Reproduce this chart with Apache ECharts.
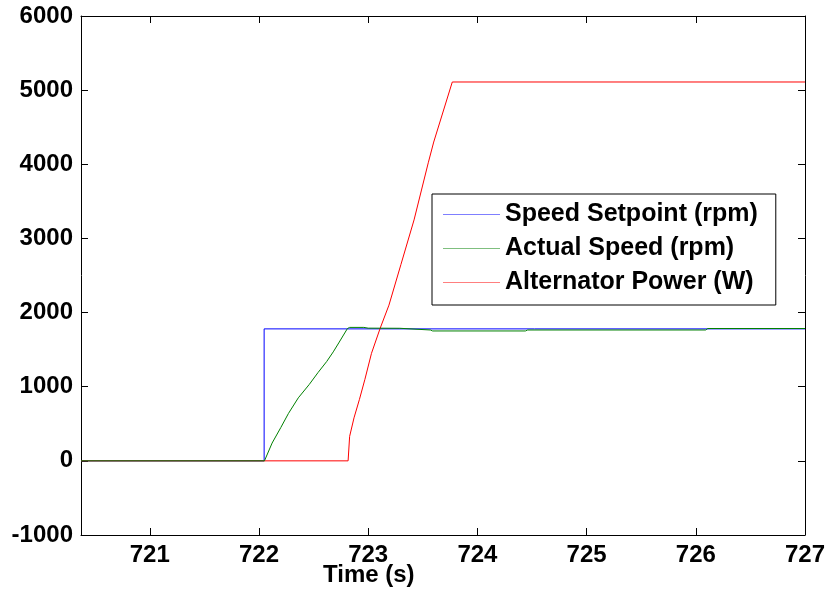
<!DOCTYPE html>
<html>
<head>
<meta charset="utf-8">
<script src="https://cdn.jsdelivr.net/npm/echarts@6/dist/echarts.min.js"></script>
<style>
  html, body { margin: 0; padding: 0; background: #fff; }
  #chart { width: 830px; height: 596px; }
</style>
</head>
<body>
<div id="chart"></div>
<script>
// Axis ticks
const xTicks = [721, 722, 723, 724, 725, 726, 727];
const yTicks = [-1000, 0, 1000, 2000, 3000, 4000, 5000, 6000];

// Speed setpoint (rpm)
const setpointTime = [720.37, 722.047, 722.047, 727];
const setpointValue = [0, 0, 1780, 1780];

// Measured speed (rpm)
const speedTime = [720.37, 722.05, 722.12, 722.2, 722.27, 722.36, 722.46, 722.54, 722.62, 722.68, 722.73, 722.81,
  722.83, 722.96, 723.0, 723.29, 723.3, 723.57, 723.59, 724.44, 724.46, 726.09, 726.11, 727];
const speedValue = [0, 0, 240, 450, 640, 850, 1030, 1190, 1340, 1470, 1590, 1785,
  1800, 1800, 1790, 1788, 1765, 1765, 1752, 1752, 1765, 1765, 1785, 1785];

// Alternator output power (W)
const powerTime = [720.37, 722.816, 722.83, 722.87, 722.92, 722.97, 723.03, 723.11, 723.19, 723.3, 723.42,
  723.55, 723.6, 723.77, 727];
const powerValue = [0, 0, 330, 580, 830, 1100, 1450, 1790, 2100, 2650, 3250,
  4020, 4300, 5110, 5110];

const seriesNames = ['Speed Setpoint (rpm)', 'Actual Speed (rpm)', 'Alternator Power (W)'];
const seriesColors = ['#0000ff', '#008000', '#ff0000'];

const pairs = (t, v) => t.map((x, i) => [x, v[i]]);

const FONT = 'Liberation Sans, Arial, sans-serif';
const X_MIN = 720.37, X_MAX = 727;

const chart = echarts.init(document.getElementById('chart'), null, { renderer: 'canvas' });

const baseX = {
  type: 'value', min: X_MIN, max: X_MAX,
  splitLine: { show: false },
  axisLine: { show: true, onZero: false, lineStyle: { color: '#000', width: 1 } },
  axisTick: { show: true, inside: true, length: 7, customValues: xTicks, lineStyle: { color: '#000' } }
};
const baseY = {
  type: 'value', min: -1000, max: 6000, interval: 1000,
  splitLine: { show: false },
  axisLine: { show: true, onZero: false, lineStyle: { color: '#000', width: 1 } },
  axisTick: { show: true, inside: true, length: 7, lineStyle: { color: '#000' } }
};

chart.setOption({
  animation: false,
  backgroundColor: '#fff',
  grid: { left: 81, right: 25, top: 16, bottom: 61, containLabel: false },
  xAxis: [
    Object.assign({}, baseX, {
      position: 'bottom',
      axisLabel: {
        show: true, customValues: xTicks, margin: 8,
        color: '#000', fontFamily: FONT, fontWeight: 'bold', fontSize: 24,
        formatter: v => String(Math.round(v))
      }
    }),
    Object.assign({}, baseX, { position: 'top', axisLabel: { show: false } })
  ],
  yAxis: [
    Object.assign({}, baseY, {
      position: 'left',
      axisLabel: {
        show: true, margin: 8,
        color: '#000', fontFamily: FONT, fontWeight: 'bold', fontSize: 24,
        customValues: yTicks,
        formatter: v => String(Math.round(v))
      }
    }),
    Object.assign({}, baseY, { position: 'right', axisLabel: { show: false } })
  ],
  legend: {
    show: true,
    selectedMode: false,
    orient: 'vertical',
    left: 432, top: 194,
    padding: [8, 18, 10, 11],
    itemGap: 9,
    itemWidth: 57, itemHeight: 14,
    backgroundColor: '#fff',
    borderColor: '#000', borderWidth: 1,
    textStyle: { color: '#000', fontFamily: FONT, fontWeight: 'bold', fontSize: 25, lineHeight: 25 },
    data: seriesNames.map(n => ({ name: n, icon: 'path://M0,0L100,0L100,1L0,1Z' }))
  },
  graphic: [{
    type: 'text', left: 323, top: 563,
    style: { text: 'Time (s)', fill: '#000', font: 'bold 24px ' + FONT }
  }],
  series: [
    { name: seriesNames[0], data: pairs(setpointTime, setpointValue) },
    { name: seriesNames[1], data: pairs(speedTime, speedValue) },
    { name: seriesNames[2], data: pairs(powerTime, powerValue) }
  ].map((s, i) => Object.assign(s, {
    type: 'line', showSymbol: false, symbol: 'none',
    color: seriesColors[i],
    lineStyle: { color: seriesColors[i], width: 1 },
    z: 2 + (i === 1 ? 1 : 0)
  }))
});
</script>
</body>
</html>
